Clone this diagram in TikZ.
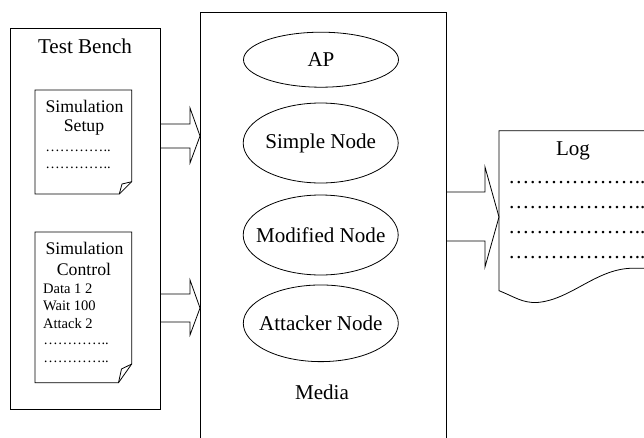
\documentclass[tikz,border=0pt]{standalone}
\usepackage{fontspec}
\setmainfont{Liberation Serif}
\usetikzlibrary{shapes.geometric,calc}
\begin{document}
\begin{tikzpicture}[x=0.75pt,y=-0.75pt, line width=0.6pt,
  big/.style={font=\fontsize{15.8}{18}\selectfont},
  mid/.style={font=\fontsize{13.3}{15}\selectfont},
  small/.style={font=\fontsize{10.9}{12}\selectfont},
  box/.style={draw, rectangle, inner sep=0pt, outer sep=0pt},
  ell/.style={draw, ellipse, inner sep=0pt, minimum width=116.25pt, big},
  txt/.style={inner sep=0pt},
  blockarrow/.style={draw, line join=miter}]
\clip (0,0) rectangle (644,437);
\fill[white] (0,0) rectangle (644,437);

% Test Bench
\node[box, minimum width=112.5pt, minimum height=285.4pt] (tb) at (85,218.75) {};
\node[big] (tbl) at (85,46) {Test Bench};

% Simulation Setup document
\draw (35,90) -- (131.7,90) -- (131.7,181.7) -- (119.3,194) -- (35,194) -- cycle;
\draw (119.3,194) -- (122,184) -- (131.7,181.7);
\node[mid] (ss1) at (84.5,106) {Simulation};
\node[mid] (ss2) at (84,128) {Setup};
\node[small, txt, anchor=base west] (ss3) at (45,151.5) {…………..};
\node[small, txt, anchor=base west] (ss4) at (45,168.5) {…………..};

% Simulation Control document
\draw (35,232) -- (131.7,232) -- (131.7,364) -- (118.5,382.7) -- (35,382.7) -- cycle;
\draw (118.5,382.7) -- (121.5,369) -- (131.7,364);
\node[mid] (sc1) at (84.5,248) {Simulation};
\node[mid] (sc2) at (84,269) {Control};
\node[small, txt, anchor=west] (sc3) at (42.7,289) {Data 1 2};
\node[small, txt, anchor=west] (sc4) at (42.7,306) {Wait 100};
\node[small, txt, anchor=west] (sc5) at (42.7,324) {Attack 2};
\node[small, txt, anchor=base west] (sc6) at (43,344.5) {…………..};
\node[small, txt, anchor=base west] (sc7) at (43,362.5) {…………..};

% Media
\node[box, minimum width=185pt, minimum height=328.1pt] (media) at (323.35,231.25) {};
\node[ell, minimum height=41.25pt] (ap) at (321,59.7) {\makebox[0pt]{AP}};
\node[ell, minimum height=60pt] (simple) at (320.7,143) {\makebox[0pt]{Simple Node}};
\node[ell, minimum height=60pt] (modified) at (320.7,235) {\makebox[0pt]{Modified Node}};
\node[ell, minimum height=57.5pt] (attacker) at (320.8,323.3) {\makebox[0pt]{Attacker Node}};
\node[big] (ml) at (322,392) {Media};

% Log document
\coordinate (logw) at (499,217);
\draw (660,130.7) -- (499,130.7) -- (499,290.7)
  .. controls (515,297) and (522,303) .. (537,302.5)
  .. controls (570,300) and (595,270) .. (630,268.3) -- (660,268.3);
\node[big] (logl) at (573,151) {Log};
\node[big, txt, anchor=base west] (ld1) at (508,183.5) {………………..};
\node[big, txt, anchor=base west] (ld2) at (508,208.5) {………………..};
\node[big, txt, anchor=base west] (ld3) at (508,233.5) {………………..};
\node[big, txt, anchor=base west] (ld4) at (508,258.5) {………………..};

% block arrows
\coordinate (a1s) at (tb.east |- 0,136);
\coordinate (a1e) at (media.west |- 0,136);
\draw[blockarrow] ($(a1s)+(0,-12)$) -- ($(a1e)+(-10,-12)$) -- ($(a1e)+(-10,-28)$)
  -- (a1e) -- ($(a1e)+(-10,27)$) -- ($(a1e)+(-10,12)$) -- ($(a1s)+(0,12)$);

\coordinate (a2s) at (tb.east |- 0,308);
\coordinate (a2e) at (media.west |- 0,308);
\draw[blockarrow] ($(a2s)+(0,-14)$) -- ($(a2e)+(-10,-14)$) -- ($(a2e)+(-10,-28)$)
  -- (a2e) -- ($(a2e)+(-10,27)$) -- ($(a2e)+(-10,14)$) -- ($(a2s)+(0,14)$);

\coordinate (a3s) at (media.east |- logw);
\draw[blockarrow] ($(a3s)+(0,-25)$) -- ($(logw)+(-14,-25)$) -- ($(logw)+(-14,-50)$)
  -- (logw) -- ($(logw)+(-14,50)$) -- ($(logw)+(-14,24)$) -- ($(a3s)+(0,24)$);
\end{tikzpicture}
\end{document}
